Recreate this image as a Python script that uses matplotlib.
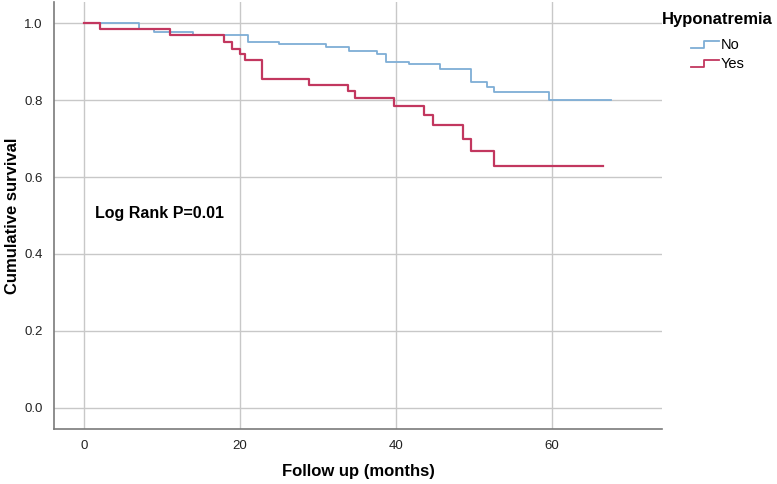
import matplotlib.pyplot as plt
from matplotlib.legend_handler import HandlerBase
from matplotlib.lines import Line2D

plt.rcParams['font.family'] = ['Liberation Sans', 'DejaVu Sans']

# Kaplan-Meier steps (time in months, cumulative survival)
no_times = [0, 7, 9, 14, 21, 25, 31, 34, 37.6, 38.7, 41.7, 45.7, 49.6, 51.6, 52.6, 59.6]
no_surv = [1.0, 0.984, 0.976, 0.968, 0.951, 0.945, 0.937, 0.928, 0.919, 0.900,
           0.893, 0.882, 0.848, 0.835, 0.820, 0.800]
no_end = 67.5

yes_times = [0, 2, 11, 18, 19, 20, 20.7, 22.8, 28.8, 33.8, 34.8, 39.7, 43.6, 44.7,
             48.6, 49.6, 52.6]
yes_surv = [1.0, 0.984, 0.968, 0.951, 0.934, 0.919, 0.903, 0.855, 0.838, 0.823,
            0.805, 0.785, 0.760, 0.735, 0.700, 0.668, 0.629]
yes_end = 66.5

x_ticks = [0, 20, 40, 60]
y_ticks = [0.0, 0.2, 0.4, 0.6, 0.8, 1.0]

blue = '#7eaed6'
red = '#c2375f'
grid_col = '#c8c8c8'


class StepHandler(HandlerBase):
    def create_artists(self, legend, orig_handle, xdescent, ydescent,
                       width, height, fontsize, trans):
        xs = [0, width * 0.45, width * 0.45, width]
        ys = [height * 0.1, height * 0.1, height * 0.8, height * 0.8]
        ln = Line2D(xs, ys, color=orig_handle.get_color(), lw=1.3, transform=trans)
        return [ln]


fig = plt.figure(figsize=(7.77, 4.84), dpi=100)
ax = fig.add_axes([54 / 777, 1 - 429 / 484, (662 - 54) / 777, (429 - 2) / 484])

ax.step(no_times + [no_end], no_surv + [no_surv[-1]], where='post', color=blue, lw=1.3, label='No')
ax.step(yes_times + [yes_end], yes_surv + [yes_surv[-1]], where='post', color=red, lw=1.6, label='Yes')

ax.set_xlim(-3.85, 74.1)
ax.set_ylim(-0.055, 1.055)
ax.set_xticks(x_ticks)
ax.set_yticks(y_ticks)
ax.set_yticklabels([f'{v:.1f}' for v in y_ticks])
ax.grid(True, color=grid_col, lw=1.0)
ax.set_axisbelow(True)
ax.tick_params(length=0, labelsize=9.5, colors='#222222', pad=8)

for s in ['top', 'right']:
    ax.spines[s].set_visible(False)
for s in ['left', 'bottom']:
    ax.spines[s].set_color('#7a7a7a')
    ax.spines[s].set_linewidth(1.2)

ax.set_xlabel('Follow up (months)', fontsize=12, fontweight='bold')
ax.set_ylabel('Cumulative survival', fontsize=12, fontweight='bold')
ax.xaxis.set_label_coords(0.5, -0.1)
ax.yaxis.set_label_coords(-0.069, 0.5)
ax.xaxis.label.set_va('center')
ax.yaxis.label.set_va('center')

ax.text(1.4, 0.506, 'Log Rank P=0.01', fontsize=11.5, fontweight='bold', va='center')

handles, labels = ax.get_legend_handles_labels()
leg = fig.legend(handles, labels, title='Hyponatremia', loc='upper right',
                 bbox_to_anchor=(776 / 777, 1 - 9 / 484), frameon=False,
                 handler_map={h: StepHandler() for h in handles},
                 fontsize=10.5, handlelength=1.9, handletextpad=0.1,
                 labelspacing=0.35, borderaxespad=0.0, borderpad=0.2)
leg.get_title().set_fontweight('bold')
leg.get_title().set_fontsize(12)
leg._legend_box.align = 'center'
leg._legend_box.sep = 8

fig.savefig('out.png', dpi=100)
